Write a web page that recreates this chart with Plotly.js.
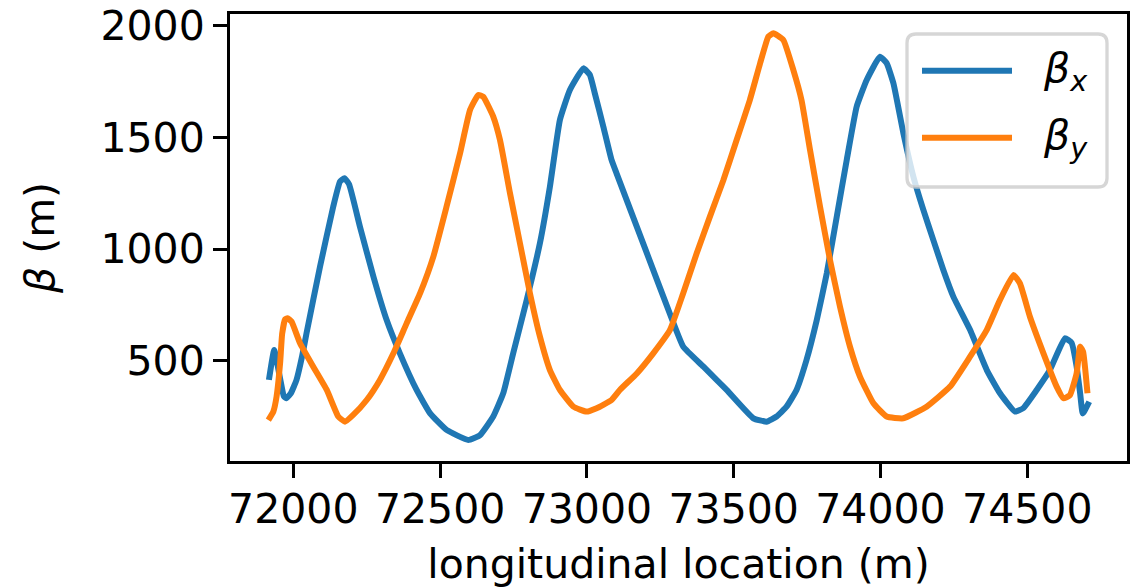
<!DOCTYPE html>
<html>
<head>
<meta charset="utf-8">
<script src="https://cdn.plot.ly/plotly-3.0.1.min.js"></script>
<style>html,body{margin:0;padding:0;background:#fff;}#chart{width:1132px;height:588px;}</style>
</head>
<body>
<div id="chart"></div>
<script>
// Data
const betaxS = [71917,71935,71955,71968,71977,71992,72011,72030,72045,72091,72136,72159,72174,72190,72227,72273,72318,72363,72420,72466,72522,72596,72636,72681,72715,72749,72795,72840,72874,72908,72942,72988,73010,73027,73056,73084,73101,73200,73294,73328,73397,73476,73567,73612,73646,73680,73714,73748,73783,73817,73851,73885,73919,73953,73998,74021,74044,74078,74112,74146,74180,74214,74248,74305,74362,74407,74458,74486,74532,74577,74628,74651,74668,74680,74689,74711];
const betaxV = [414,548,420,340,332,355,414,520,623,921,1190,1302,1317,1290,1100,876,682,533,369,264,190,145,167,250,354,533,772,1026,1279,1578,1712,1809,1780,1697,1548,1399,1339,996,671,563,473,369,242,227,250,294,369,503,682,891,1145,1399,1638,1757,1861,1832,1742,1518,1324,1175,1040,906,787,638,458,354,272,287,369,458,600,580,474,354,264,316];

const betayS = [71915,71932,71943,71955,71962,71972,71980,71994,72023,72068,72114,72153,72176,72204,72250,72295,72341,72386,72432,72477,72522,72568,72602,72630,72647,72681,72704,72738,72772,72806,72840,72874,72908,72954,72999,73033,73084,73113,73170,73226,73283,73328,73374,73419,73465,73510,73555,73590,73618,73635,73669,73703,73731,73760,73794,73828,73862,73896,73930,73976,74021,74078,74157,74237,74305,74362,74407,74453,74475,74509,74555,74600,74623,74645,74668,74680,74690,74705];
const betayV = [234,272,339,488,620,685,690,675,578,473,369,250,227,257,324,414,533,667,802,966,1190,1429,1623,1690,1682,1593,1488,1250,1026,802,608,458,369,294,272,287,324,370,443,533,638,802,981,1145,1309,1488,1667,1832,1951,1966,1936,1802,1667,1443,1190,951,742,563,429,309,250,242,294,384,518,638,772,884,846,697,533,384,332,345,443,563,540,354];

const seriesNames = ['<i>β</i><sub><i>x</i></sub>', '<i>β</i><sub><i>y</i></sub>'];
const seriesColors = ['#1f77b4', '#ff7f0e'];
const xTicks = [72000, 72500, 73000, 73500, 74000, 74500];
const yTicks = [500, 1000, 1500, 2000];

// Layout geometry (pixels)
const W = 1132, H = 588, ML = 230, MR = 5, MT = 14, MB = 127;
const PW = W - ML - MR, PH = H - MT - MB;
const fx = px => (px - ML) / PW;
const fy = py => (H - MB - py) / PH;

function roundRect(x0, y0, x1, y1, r) {
  const X = v => fx(v).toFixed(5), Y = v => fy(v).toFixed(5);
  return 'M' + X(x0 + r) + ',' + Y(y0) +
    ' L' + X(x1 - r) + ',' + Y(y0) +
    ' Q' + X(x1) + ',' + Y(y0) + ' ' + X(x1) + ',' + Y(y0 + r) +
    ' L' + X(x1) + ',' + Y(y1 - r) +
    ' Q' + X(x1) + ',' + Y(y1) + ' ' + X(x1 - r) + ',' + Y(y1) +
    ' L' + X(x0 + r) + ',' + Y(y1) +
    ' Q' + X(x0) + ',' + Y(y1) + ' ' + X(x0) + ',' + Y(y1 - r) +
    ' L' + X(x0) + ',' + Y(y0 + r) +
    ' Q' + X(x0) + ',' + Y(y0) + ' ' + X(x0 + r) + ',' + Y(y0) + ' Z';
}

const font = {family: 'DejaVu Sans', size: 41, color: '#000'};

const traces = [
  {x: betaxS, y: betaxV, type: 'scatter', mode: 'lines', name: 'βx', showlegend: false,
   line: {color: seriesColors[0], width: 6, shape: 'spline', smoothing: 0.4}},
  {x: betayS, y: betayV, type: 'scatter', mode: 'lines', name: 'βy', showlegend: false,
   line: {color: seriesColors[1], width: 6, shape: 'spline', smoothing: 0.4}}
];

const legRows = [70.7, 137.7];
const shapes = [
  {type: 'path', xref: 'paper', yref: 'paper', layer: 'above', path: roundRect(907, 34, 1107, 187, 9),
   fillcolor: 'rgba(255,255,255,0.8)', line: {color: 'rgba(204,204,204,0.8)', width: 3.3}}
];
const annotations = [];
legRows.forEach((py, i) => {
  shapes.push({type: 'line', xref: 'paper', yref: 'paper', layer: 'above',
    x0: fx(922), x1: fx(1012), y0: fy(py), y1: fy(py),
    line: {color: seriesColors[i], width: 6}});
  annotations.push({xref: 'paper', yref: 'paper', x: fx(1041), y: fy(py), xanchor: 'left', yanchor: 'middle',
    text: seriesNames[i], showarrow: false, font: font});
});

const layout = {
  width: W, height: H,
  margin: {l: ML, r: MR, t: MT, b: MB, pad: 0},
  paper_bgcolor: '#fff', plot_bgcolor: '#fff',
  showlegend: false,
  font: font,
  xaxis: {
    range: [71784.4, 74839.6], tickvals: xTicks, ticktext: xTicks.map(String),
    ticks: 'outside', ticklen: 14, tickwidth: 3, tickcolor: '#000',
    showline: true, mirror: true, linewidth: 3, linecolor: '#000',
    showgrid: false, zeroline: false, tickfont: font, automargin: false,
    ticklabelstandoff: -4,
    title: {text: 'longitudinal location (m)', font: font, standoff: 20}
  },
  yaxis: {
    range: [50.8, 2052.4], tickvals: yTicks, ticktext: yTicks.map(String),
    ticks: 'outside', ticklen: 14, tickwidth: 3, tickcolor: '#000',
    showline: true, mirror: true, linewidth: 3, linecolor: '#000',
    showgrid: false, zeroline: false, tickfont: font, automargin: false,
    title: {text: '<i>β</i> (m)', font: font, standoff: 34}
  },
  shapes: shapes,
  annotations: annotations
};

Plotly.newPlot('chart', traces, layout, {displayModeBar: false, staticPlot: true});
</script>
</body>
</html>
